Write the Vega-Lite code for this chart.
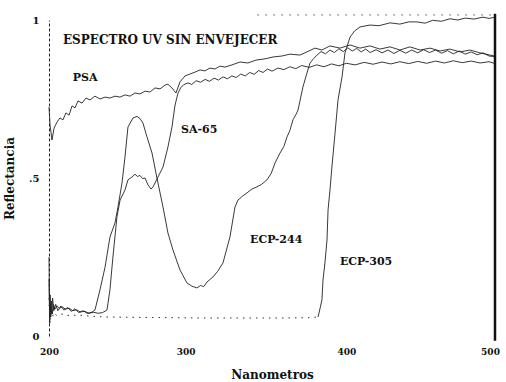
{
  "$schema": "https://vega.github.io/schema/vega-lite/v6.json",
  "autosize": {"type": "none"},
  "width": 446,
  "height": 316,
  "padding": {"left": 49, "top": 20, "right": 11, "bottom": 46},
  "background": "white",
  "config": {
    "view": {"stroke": null},
    "font": "DejaVu Serif",
    "axis": {"labelFont": "DejaVu Serif", "titleFont": "DejaVu Serif", "labelFontWeight": "bold", "titleFontWeight": "bold", "labelColor": "#111", "titleColor": "#111", "grid": false}
  },
  "datasets": {
    "curves": [
      {"serie":"PSA","wl":200.0,"r":0.725},{"serie":"PSA","wl":200.7,"r":0.668},{"serie":"PSA","wl":202.0,"r":0.620},{"serie":"PSA","wl":203.4,"r":0.658},{"serie":"PSA","wl":205.4,"r":0.677},{"serie":"PSA","wl":207.4,"r":0.690},{"serie":"PSA","wl":209.4,"r":0.684},{"serie":"PSA","wl":211.4,"r":0.706},{"serie":"PSA","wl":213.5,"r":0.699},{"serie":"PSA","wl":215.5,"r":0.728},{"serie":"PSA","wl":217.5,"r":0.722},{"serie":"PSA","wl":219.5,"r":0.744},{"serie":"PSA","wl":222.2,"r":0.737},{"serie":"PSA","wl":224.9,"r":0.753},{"serie":"PSA","wl":227.6,"r":0.747},{"serie":"PSA","wl":230.9,"r":0.759},{"serie":"PSA","wl":234.3,"r":0.750},{"serie":"PSA","wl":237.7,"r":0.756},{"serie":"PSA","wl":241.0,"r":0.753},{"serie":"PSA","wl":244.4,"r":0.759},{"serie":"PSA","wl":247.8,"r":0.756},{"serie":"PSA","wl":251.1,"r":0.763},{"serie":"PSA","wl":254.5,"r":0.759},{"serie":"PSA","wl":257.8,"r":0.769},{"serie":"PSA","wl":261.2,"r":0.766},{"serie":"PSA","wl":264.6,"r":0.775},{"serie":"PSA","wl":267.9,"r":0.772},{"serie":"PSA","wl":271.3,"r":0.785},{"serie":"PSA","wl":274.7,"r":0.782},{"serie":"PSA","wl":278.0,"r":0.794},{"serie":"PSA","wl":280.0,"r":0.797},{"serie":"PSA","wl":282.7,"r":0.785},{"serie":"PSA","wl":285.4,"r":0.769},{"serie":"PSA","wl":288.1,"r":0.804},{"serie":"PSA","wl":291.5,"r":0.823},{"serie":"PSA","wl":294.8,"r":0.829},{"serie":"PSA","wl":298.2,"r":0.835},{"serie":"PSA","wl":301.6,"r":0.842},{"serie":"PSA","wl":304.9,"r":0.839},{"serie":"PSA","wl":308.3,"r":0.848},{"serie":"PSA","wl":311.7,"r":0.845},{"serie":"PSA","wl":315.0,"r":0.854},{"serie":"PSA","wl":318.4,"r":0.851},{"serie":"PSA","wl":323.1,"r":0.858},{"serie":"PSA","wl":328.5,"r":0.867},{"serie":"PSA","wl":333.8,"r":0.864},{"serie":"PSA","wl":339.2,"r":0.873},{"serie":"PSA","wl":345.3,"r":0.877},{"serie":"PSA","wl":350.7,"r":0.883},{"serie":"PSA","wl":356.7,"r":0.886},{"serie":"PSA","wl":362.1,"r":0.892},{"serie":"PSA","wl":368.8,"r":0.889},{"serie":"PSA","wl":373.5,"r":0.899},{"serie":"PSA","wl":378.9,"r":0.911},{"serie":"PSA","wl":383.6,"r":0.905},{"serie":"PSA","wl":389.0,"r":0.918},{"serie":"PSA","wl":395.7,"r":0.911},{"serie":"PSA","wl":402.5,"r":0.921},{"serie":"PSA","wl":409.2,"r":0.911},{"serie":"PSA","wl":415.9,"r":0.918},{"serie":"PSA","wl":422.6,"r":0.908},{"serie":"PSA","wl":429.4,"r":0.915},{"serie":"PSA","wl":436.1,"r":0.905},{"serie":"PSA","wl":442.8,"r":0.915},{"serie":"PSA","wl":449.6,"r":0.905},{"serie":"PSA","wl":456.3,"r":0.911},{"serie":"PSA","wl":463.0,"r":0.902},{"serie":"PSA","wl":469.7,"r":0.908},{"serie":"PSA","wl":476.5,"r":0.899},{"serie":"PSA","wl":483.2,"r":0.905},{"serie":"PSA","wl":489.9,"r":0.896},{"serie":"PSA","wl":496.6,"r":0.889},{"serie":"PSA","wl":500.0,"r":0.886},

      {"serie":"SA-65","wl":200.0,"r":0.25},{"serie":"SA-65","wl":200.4,"r":0.04},{"serie":"SA-65","wl":200.8,"r":0.13},{"serie":"SA-65","wl":201.2,"r":0.06},{"serie":"SA-65","wl":201.7,"r":0.11},{"serie":"SA-65","wl":202.3,"r":0.07},{"serie":"SA-65","wl":203.0,"r":0.10},{"serie":"SA-65","wl":204.0,"r":0.085},{"serie":"SA-65","wl":205.5,"r":0.095},{"serie":"SA-65","wl":207.0,"r":0.088},{"serie":"SA-65","wl":209.0,"r":0.092},{"serie":"SA-65","wl":211.0,"r":0.085},{"serie":"SA-65","wl":213.5,"r":0.088},{"serie":"SA-65","wl":216.0,"r":0.080},{"serie":"SA-65","wl":218.5,"r":0.083},{"serie":"SA-65","wl":221.0,"r":0.076},{"serie":"SA-65","wl":224.0,"r":0.078},{"serie":"SA-65","wl":227.0,"r":0.072},{"serie":"SA-65","wl":230.0,"r":0.075},{"serie":"SA-65","wl":233.0,"r":0.072},{"serie":"SA-65","wl":236.0,"r":0.074},{"serie":"SA-65","wl":239.0,"r":0.082},{"serie":"SA-65","wl":241.0,"r":0.146},{"serie":"SA-65","wl":243.0,"r":0.250},{"serie":"SA-65","wl":245.7,"r":0.377},{"serie":"SA-65","wl":247.8,"r":0.430},{"serie":"SA-65","wl":251.1,"r":0.462},{"serie":"SA-65","wl":253.1,"r":0.494},{"serie":"SA-65","wl":255.8,"r":0.503},{"serie":"SA-65","wl":257.8,"r":0.512},{"serie":"SA-65","wl":259.5,"r":0.505},{"serie":"SA-65","wl":261.2,"r":0.508},{"serie":"SA-65","wl":263.0,"r":0.498},{"serie":"SA-65","wl":264.6,"r":0.500},{"serie":"SA-65","wl":266.6,"r":0.478},{"serie":"SA-65","wl":268.6,"r":0.465},{"serie":"SA-65","wl":270.0,"r":0.472},{"serie":"SA-65","wl":273.3,"r":0.503},{"serie":"SA-65","wl":276.7,"r":0.535},{"serie":"SA-65","wl":280.0,"r":0.598},{"serie":"SA-65","wl":282.7,"r":0.661},{"serie":"SA-65","wl":284.8,"r":0.731},{"serie":"SA-65","wl":286.8,"r":0.769},{"serie":"SA-65","wl":288.5,"r":0.785},{"serie":"SA-65","wl":290.5,"r":0.795},{"serie":"SA-65","wl":293.5,"r":0.801},{"serie":"SA-65","wl":296.0,"r":0.796},{"serie":"SA-65","wl":299.0,"r":0.808},{"serie":"SA-65","wl":302.0,"r":0.803},{"serie":"SA-65","wl":305.0,"r":0.812},{"serie":"SA-65","wl":308.0,"r":0.806},{"serie":"SA-65","wl":311.0,"r":0.816},{"serie":"SA-65","wl":314.0,"r":0.810},{"serie":"SA-65","wl":317.0,"r":0.820},{"serie":"SA-65","wl":320.0,"r":0.814},{"serie":"SA-65","wl":323.0,"r":0.823},{"serie":"SA-65","wl":326.0,"r":0.818},{"serie":"SA-65","wl":329.0,"r":0.829},{"serie":"SA-65","wl":332.0,"r":0.823},{"serie":"SA-65","wl":335.0,"r":0.834},{"serie":"SA-65","wl":338.0,"r":0.828},{"serie":"SA-65","wl":341.0,"r":0.840},{"serie":"SA-65","wl":344.0,"r":0.834},{"serie":"SA-65","wl":347.0,"r":0.845},{"serie":"SA-65","wl":350.0,"r":0.838},{"serie":"SA-65","wl":354.0,"r":0.848},{"serie":"SA-65","wl":358.0,"r":0.843},{"serie":"SA-65","wl":362.0,"r":0.852},{"serie":"SA-65","wl":366.0,"r":0.846},{"serie":"SA-65","wl":370.0,"r":0.856},{"serie":"SA-65","wl":375.0,"r":0.850},{"serie":"SA-65","wl":380.0,"r":0.858},{"serie":"SA-65","wl":385.0,"r":0.852},{"serie":"SA-65","wl":390.0,"r":0.861},{"serie":"SA-65","wl":395.0,"r":0.855},{"serie":"SA-65","wl":400.0,"r":0.863},{"serie":"SA-65","wl":406.0,"r":0.858},{"serie":"SA-65","wl":412.0,"r":0.866},{"serie":"SA-65","wl":418.0,"r":0.860},{"serie":"SA-65","wl":424.0,"r":0.867},{"serie":"SA-65","wl":430.0,"r":0.861},{"serie":"SA-65","wl":436.0,"r":0.868},{"serie":"SA-65","wl":442.0,"r":0.862},{"serie":"SA-65","wl":448.0,"r":0.869},{"serie":"SA-65","wl":454.0,"r":0.863},{"serie":"SA-65","wl":460.0,"r":0.870},{"serie":"SA-65","wl":466.0,"r":0.864},{"serie":"SA-65","wl":472.0,"r":0.871},{"serie":"SA-65","wl":478.0,"r":0.865},{"serie":"SA-65","wl":484.0,"r":0.870},{"serie":"SA-65","wl":490.0,"r":0.864},{"serie":"SA-65","wl":496.0,"r":0.868},{"serie":"SA-65","wl":500.0,"r":0.862},

      {"serie":"ECP-244","wl":200.0,"r":0.18},{"serie":"ECP-244","wl":200.5,"r":0.05},{"serie":"ECP-244","wl":201.0,"r":0.10},{"serie":"ECP-244","wl":201.6,"r":0.07},{"serie":"ECP-244","wl":202.4,"r":0.12},{"serie":"ECP-244","wl":203.2,"r":0.08},{"serie":"ECP-244","wl":204.5,"r":0.10},{"serie":"ECP-244","wl":206.0,"r":0.08},{"serie":"ECP-244","wl":208.0,"r":0.095},{"serie":"ECP-244","wl":210.0,"r":0.082},{"serie":"ECP-244","wl":212.5,"r":0.09},{"serie":"ECP-244","wl":215.0,"r":0.078},{"serie":"ECP-244","wl":217.5,"r":0.086},{"serie":"ECP-244","wl":220.0,"r":0.074},{"serie":"ECP-244","wl":223.0,"r":0.08},{"serie":"ECP-244","wl":226.0,"r":0.071},{"serie":"ECP-244","wl":229.0,"r":0.076},{"serie":"ECP-244","wl":230.9,"r":0.082},{"serie":"ECP-244","wl":234.3,"r":0.146},{"serie":"ECP-244","wl":237.7,"r":0.218},{"serie":"ECP-244","wl":241.0,"r":0.313},{"serie":"ECP-244","wl":244.4,"r":0.358},{"serie":"ECP-244","wl":246.4,"r":0.408},{"serie":"ECP-244","wl":249.1,"r":0.484},{"serie":"ECP-244","wl":251.1,"r":0.566},{"serie":"ECP-244","wl":253.1,"r":0.661},{"serie":"ECP-244","wl":256.5,"r":0.690},{"serie":"ECP-244","wl":259.2,"r":0.695},{"serie":"ECP-244","wl":261.2,"r":0.688},{"serie":"ECP-244","wl":263.2,"r":0.674},{"serie":"ECP-244","wl":265.9,"r":0.630},{"serie":"ECP-244","wl":269.3,"r":0.579},{"serie":"ECP-244","wl":272.6,"r":0.500},{"serie":"ECP-244","wl":276.7,"r":0.408},{"serie":"ECP-244","wl":280.0,"r":0.326},{"serie":"ECP-244","wl":283.4,"r":0.272},{"serie":"ECP-244","wl":288.1,"r":0.209},{"serie":"ECP-244","wl":292.8,"r":0.168},{"serie":"ECP-244","wl":296.0,"r":0.158},{"serie":"ECP-244","wl":299.5,"r":0.152},{"serie":"ECP-244","wl":302.0,"r":0.160},{"serie":"ECP-244","wl":304.0,"r":0.156},{"serie":"ECP-244","wl":306.3,"r":0.171},{"serie":"ECP-244","wl":310.3,"r":0.187},{"serie":"ECP-244","wl":313.5,"r":0.205},{"serie":"ECP-244","wl":317.0,"r":0.231},{"serie":"ECP-244","wl":321.7,"r":0.313},{"serie":"ECP-244","wl":325.1,"r":0.408},{"serie":"ECP-244","wl":327.1,"r":0.430},{"serie":"ECP-244","wl":330.0,"r":0.442},{"serie":"ECP-244","wl":333.2,"r":0.453},{"serie":"ECP-244","wl":336.5,"r":0.465},{"serie":"ECP-244","wl":339.9,"r":0.472},{"serie":"ECP-244","wl":343.0,"r":0.480},{"serie":"ECP-244","wl":346.6,"r":0.494},{"serie":"ECP-244","wl":349.5,"r":0.515},{"serie":"ECP-244","wl":352.0,"r":0.547},{"serie":"ECP-244","wl":355.4,"r":0.579},{"serie":"ECP-244","wl":358.0,"r":0.600},{"serie":"ECP-244","wl":360.1,"r":0.630},{"serie":"ECP-244","wl":362.0,"r":0.650},{"serie":"ECP-244","wl":364.1,"r":0.684},{"serie":"ECP-244","wl":366.0,"r":0.700},{"serie":"ECP-244","wl":367.5,"r":0.715},{"serie":"ECP-244","wl":370.8,"r":0.788},{"serie":"ECP-244","wl":373.5,"r":0.832},{"serie":"ECP-244","wl":375.6,"r":0.864},{"serie":"ECP-244","wl":378.0,"r":0.878},{"serie":"ECP-244","wl":380.3,"r":0.889},{"serie":"ECP-244","wl":383.0,"r":0.900},{"serie":"ECP-244","wl":386.0,"r":0.893},{"serie":"ECP-244","wl":389.0,"r":0.905},{"serie":"ECP-244","wl":392.0,"r":0.897},{"serie":"ECP-244","wl":395.0,"r":0.909},{"serie":"ECP-244","wl":398.0,"r":0.900},{"serie":"ECP-244","wl":401.0,"r":0.912},{"serie":"ECP-244","wl":404.0,"r":0.902},{"serie":"ECP-244","wl":407.0,"r":0.910},{"serie":"ECP-244","wl":410.0,"r":0.899},{"serie":"ECP-244","wl":413.0,"r":0.908},{"serie":"ECP-244","wl":416.0,"r":0.897},{"serie":"ECP-244","wl":420.0,"r":0.906},{"serie":"ECP-244","wl":424.0,"r":0.896},{"serie":"ECP-244","wl":428.0,"r":0.905},{"serie":"ECP-244","wl":432.0,"r":0.894},{"serie":"ECP-244","wl":436.0,"r":0.904},{"serie":"ECP-244","wl":440.0,"r":0.895},{"serie":"ECP-244","wl":444.0,"r":0.905},{"serie":"ECP-244","wl":448.0,"r":0.896},{"serie":"ECP-244","wl":452.0,"r":0.906},{"serie":"ECP-244","wl":456.0,"r":0.897},{"serie":"ECP-244","wl":460.0,"r":0.905},{"serie":"ECP-244","wl":464.0,"r":0.895},{"serie":"ECP-244","wl":468.0,"r":0.903},{"serie":"ECP-244","wl":472.0,"r":0.893},{"serie":"ECP-244","wl":476.0,"r":0.902},{"serie":"ECP-244","wl":480.0,"r":0.892},{"serie":"ECP-244","wl":484.0,"r":0.899},{"serie":"ECP-244","wl":488.0,"r":0.890},{"serie":"ECP-244","wl":492.0,"r":0.896},{"serie":"ECP-244","wl":496.0,"r":0.886},{"serie":"ECP-244","wl":500.0,"r":0.884},

      {"serie":"ECP-305","wl":200.0,"r":0.12},{"serie":"ECP-305","wl":200.6,"r":0.04},{"serie":"ECP-305","wl":201.3,"r":0.08},{"serie":"ECP-305","wl":202.2,"r":0.06},{"serie":"ECP-305","wl":203.5,"r":0.075},{"serie":"ECP-305","wl":205.0,"r":0.065},{"serie":"ECP-305","wl":208.0,"r":0.07},{"serie":"ECP-305","wl":212.0,"r":0.065},{"serie":"ECP-305","wl":220.0,"r":0.066},{"serie":"ECP-305","wl":230.0,"r":0.062},{"serie":"ECP-305","wl":240.0,"r":0.060},{"serie":"ECP-305","wl":260.0,"r":0.059},{"serie":"ECP-305","wl":280.0,"r":0.058},{"serie":"ECP-305","wl":300.0,"r":0.057},{"serie":"ECP-305","wl":320.0,"r":0.057},{"serie":"ECP-305","wl":340.0,"r":0.057},{"serie":"ECP-305","wl":360.0,"r":0.057},{"serie":"ECP-305","wl":375.0,"r":0.058},{"serie":"ECP-305","wl":381.0,"r":0.060},{"serie":"ECP-305","wl":383.6,"r":0.114},{"serie":"ECP-305","wl":384.3,"r":0.177},{"serie":"ECP-305","wl":385.6,"r":0.231},{"serie":"ECP-305","wl":387.0,"r":0.304},{"serie":"ECP-305","wl":387.7,"r":0.399},{"serie":"ECP-305","wl":389.0,"r":0.462},{"serie":"ECP-305","wl":390.3,"r":0.535},{"serie":"ECP-305","wl":392.4,"r":0.642},{"serie":"ECP-305","wl":394.4,"r":0.747},{"serie":"ECP-305","wl":397.1,"r":0.820},{"serie":"ECP-305","wl":399.1,"r":0.896},{"serie":"ECP-305","wl":402.5,"r":0.946},{"serie":"ECP-305","wl":405.5,"r":0.965},{"serie":"ECP-305","wl":409.2,"r":0.978},{"serie":"ECP-305","wl":415.9,"r":0.984},{"serie":"ECP-305","wl":422.0,"r":0.982},{"serie":"ECP-305","wl":429.4,"r":0.991},{"serie":"ECP-305","wl":436.0,"r":0.987},{"serie":"ECP-305","wl":442.0,"r":0.994},{"serie":"ECP-305","wl":447.5,"r":0.994},{"serie":"ECP-305","wl":453.0,"r":0.990},{"serie":"ECP-305","wl":458.0,"r":0.999},{"serie":"ECP-305","wl":464.0,"r":0.996},{"serie":"ECP-305","wl":469.7,"r":1.004},{"serie":"ECP-305","wl":475.0,"r":1.000},{"serie":"ECP-305","wl":480.0,"r":1.006},{"serie":"ECP-305","wl":486.0,"r":1.003},{"serie":"ECP-305","wl":491.9,"r":1.009},{"serie":"ECP-305","wl":496.0,"r":1.005},{"serie":"ECP-305","wl":500.0,"r":1.009}
    ],
    "labels": [
      {"text":"PSA","wl":216.0,"r":0.816},
      {"text":"SA-65","wl":288.8,"r":0.652},
      {"text":"ECP-244","wl":335.2,"r":0.304},
      {"text":"ECP-305","wl":395.7,"r":0.234}
    ],
    "titulo": [
      {"text":"ESPECTRO UV SIN ENVEJECER","wl":209.4,"r":0.937}
    ],
    "borde": [
      {"wl":500,"r":-0.015,"r2":1.02}
    ],
    "techo": [
      {"wl":340,"wl2":500,"r":1.016}
    ]
  },
  "encoding": {
    "x": {"field": "wl", "type": "quantitative", "scale": {"domain": [200, 500], "nice": false, "zero": false},
      "axis": {"values": [200, 300, 400, 500], "domain": false, "ticks": false, "labelFlush": false, "labelPadding": 11, "labelFontSize": 9, "title": "Nanometros", "titleFontSize": 12, "titlePadding": 13, "labelOffset": {"expr": "datum.value == 300 ? -12 : (datum.value == 500 ? -5 : 0)"}}},
    "y": {"field": "r", "type": "quantitative", "scale": {"domain": [0, 1], "nice": false},
      "axis": {"values": [0, 0.5, 1], "labelExpr": "datum.value == 0.5 ? '.5' : toString(datum.value)", "domain": true, "domainColor": "#222", "domainDash": [3, 2], "ticks": false, "labelPadding": 10, "labelFontSize": 10, "title": "Reflectancia", "titleFontSize": 12, "titlePadding": 12}}
  },
  "layer": [
    {
      "data": {"name": "curves"},
      "transform": [{"filter": "!(datum.serie == 'ECP-305' && datum.wl < 381)"}],
      "mark": {"type": "line", "color": "#222", "strokeWidth": 0.9},
      "encoding": {"detail": {"field": "serie"}}
    },
    {
      "data": {"name": "curves"},
      "transform": [{"filter": "datum.serie == 'ECP-305' && datum.wl <= 381"}],
      "mark": {"type": "line", "color": "#333", "strokeWidth": 1, "strokeDash": [1.5, 5]},
      "encoding": {}
    },
    {
      "data": {"name": "labels"},
      "mark": {"type": "text", "align": "left", "baseline": "middle", "font": "DejaVu Serif", "fontWeight": "bold", "fontSize": 11, "color": "#111"},
      "encoding": {"text": {"field": "text"}}
    },
    {
      "data": {"name": "titulo"},
      "mark": {"type": "text", "align": "left", "baseline": "middle", "font": "DejaVu Serif", "fontWeight": "bold", "fontSize": 12, "color": "#111"},
      "encoding": {"text": {"field": "text"}}
    },
    {
      "data": {"name": "borde"},
      "mark": {"type": "rule", "color": "#111", "strokeWidth": 2.5},
      "encoding": {"y2": {"field": "r2"}}
    },
    {
      "data": {"name": "techo"},
      "mark": {"type": "rule", "color": "#777", "strokeWidth": 1, "strokeDash": [2, 6]},
      "encoding": {"x2": {"field": "wl2"}}
    }
  ]
}
